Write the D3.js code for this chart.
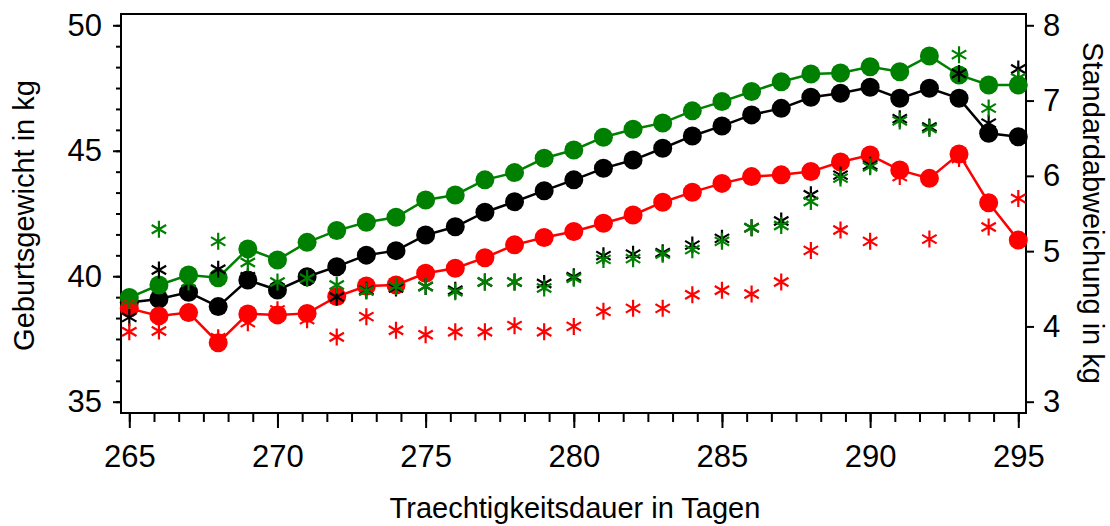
<!DOCTYPE html>
<html>
<head>
<meta charset="utf-8">
<script src="https://cdn.jsdelivr.net/npm/d3@7"></script>
<style>
  body { margin: 0; background: #fff; }
  svg text { font-family: "Liberation Sans", Arial, sans-serif; fill: #000; }
</style>
</head>
<body>
<svg id="chart" width="1110" height="526"></svg>
<script>
// Tage (x-Achse)
const days = [265, 266, 267, 268, 269, 270, 271, 272, 273, 274, 275, 276, 277, 278, 279, 280,
  281, 282, 283, 284, 285, 286, 287, 288, 289, 290, 291, 292, 293, 294, 295];

// Mittelwerte Geburtsgewicht (linke Achse)
const meanGreen = [39.15, 39.65, 40.05, 39.94, 41.09, 40.65, 41.35, 41.82, 42.15, 42.35, 43.04, 43.24,
  43.84, 44.13, 44.70, 45.03, 45.54, 45.86, 46.11, 46.59, 46.96, 47.36, 47.75, 48.06, 48.10, 48.35,
  48.15, 48.78, 48.02, 47.62, 47.62];
const meanBlack = [38.95, 39.09, 39.36, 38.79, 39.85, 39.45, 39.98, 40.38, 40.84, 41.02, 41.64, 41.97,
  42.55, 42.97, 43.41, 43.84, 44.30, 44.63, 45.10, 45.59, 45.99, 46.43, 46.69, 47.13, 47.29, 47.53,
  47.09, 47.49, 47.09, 45.70, 45.56];
const meanRed = [38.72, 38.42, 38.55, 37.35, 38.50, 38.46, 38.52, 39.19, 39.61, 39.65, 40.12, 40.32,
  40.74, 41.25, 41.54, 41.78, 42.11, 42.44, 42.95, 43.35, 43.70, 43.97, 44.04, 44.17, 44.55, 44.83,
  44.23, 43.90, 44.87, 42.93, 41.44];

// Standardabweichung (rechte Achse)
const sdGreen = [4.35, 5.29, 4.59, 5.13, 4.85, 4.59, 4.64, 4.55, 4.47, 4.53, 4.53, 4.46, 4.59, 4.59,
  4.51, 4.64, 4.89, 4.90, 4.96, 5.02, 5.13, 5.31, 5.34, 5.66, 5.97, 6.12, 6.73, 6.63, 7.61, 6.90, 7.30];
const sdBlack = [4.12, 4.75, 4.46, 4.76, 4.66, 4.48, 4.66, 4.39, 4.48, 4.51, 4.53, 4.48, 4.59, 4.59,
  4.57, 4.66, 4.94, 4.96, 4.98, 5.08, 5.17, 5.31, 5.40, 5.75, 6.01, 6.14, 6.76, 6.65, 7.36, 6.70, 7.42];
const sdRed = [3.93, 3.94, 4.18, 3.85, 4.05, 4.22, 4.09, 3.86, 4.13, 3.95, 3.89, 3.93, 3.93, 4.01,
  3.93, 4.00, 4.20, 4.24, 4.24, 4.42, 4.48, 4.43, 4.59, 5.01, 5.28, 5.13, 5.99, 5.16, 6.23, 5.32, 5.70];

const xTicks = [265, 270, 275, 280, 285, 290, 295];
const leftTicks = [35, 40, 45, 50];
const rightTicks = [3, 4, 5, 6, 7, 8];

const svg = d3.select('#chart');
const plotL = 121, plotR = 1026, plotT = 14, plotB = 413;

let x = d3.scaleLinear().domain([264.72, 295.26]).range([plotL, plotR]);
let yL = d3.scaleLinear().domain([34.55, 50.45]).range([plotB, plotT]);
let yR = d3.scaleLinear().domain([2.85, 8.15]).range([plotB, plotT]);

// minor ticks: 6 steps per major interval
let xMinor = d3.range(265, 295.01, 5 / 6);
let yMinor = d3.range(35, 50.01, 5 / 6);

function styleAxis(g) {
  g.select('.domain').remove();
  g.selectAll('line').attr('stroke', '#000').attr('stroke-width', 2);
  g.selectAll('text').attr('font-size', 31);
}

svg.append('g')
  .attr('transform', `translate(0,${plotB})`)
  .call(d3.axisBottom(x).tickValues(xMinor).tickSize(9).tickFormat(''))
  .call(styleAxis);
svg.append('g')
  .attr('transform', `translate(0,${plotB})`)
  .call(d3.axisBottom(x).tickValues(xTicks).tickSize(15).tickPadding(17).tickFormat(d3.format('d')))
  .call(styleAxis);

svg.append('g')
  .attr('transform', `translate(${plotL},0)`)
  .call(d3.axisLeft(yL).tickValues(yMinor).tickSize(5).tickFormat(''))
  .call(styleAxis);
svg.append('g')
  .attr('transform', `translate(${plotL},0)`)
  .call(d3.axisLeft(yL).tickValues(leftTicks).tickSize(8).tickPadding(11).tickFormat(d3.format('d')))
  .call(styleAxis);

svg.append('g')
  .attr('transform', `translate(${plotR},0)`)
  .call(d3.axisRight(yR).tickValues(rightTicks).tickSize(8).tickPadding(9).tickFormat(d3.format('d')))
  .call(styleAxis);

svg.append('rect')
  .attr('x', plotL).attr('y', plotT)
  .attr('width', plotR - plotL).attr('height', plotB - plotT)
  .attr('fill', 'none').attr('stroke', '#000').attr('stroke-width', 2);

const series = [
  { mean: meanBlack, sd: sdBlack, color: '#000000' },
  { mean: meanGreen, sd: sdGreen, color: '#008000' },
  { mean: meanRed, sd: sdRed, color: '#ff0000' },
];

let line = d3.line().x((d, i) => x(days[i])).y(d => yL(d));

series.forEach(s => {
  let g = svg.append('g');
  g.append('path')
    .attr('d', line(s.mean))
    .attr('fill', 'none')
    .attr('stroke', s.color)
    .attr('stroke-width', 2.5);
  g.selectAll('circle')
    .data(s.mean)
    .join('circle')
    .attr('cx', (d, i) => x(days[i]))
    .attr('cy', d => yL(d))
    .attr('r', 9.5)
    .attr('fill', s.color);
});

// asterisk: vertical stroke + two diagonals
const a = 8.5;
const star = `M0,${-a}L0,${a}M${-a * 0.85},${-a * 0.5}L${a * 0.85},${a * 0.5}M${-a * 0.85},${a * 0.5}L${a * 0.85},${-a * 0.5}`;

series.forEach(s => {
  svg.append('g')
    .selectAll('path')
    .data(s.sd)
    .join('path')
    .attr('d', star)
    .attr('transform', (d, i) => `translate(${x(days[i])},${yR(d)})`)
    .attr('fill', 'none')
    .attr('stroke', s.color)
    .attr('stroke-width', 2.2);
});

svg.append('text')
  .attr('x', 575).attr('y', 518)
  .attr('text-anchor', 'middle')
  .attr('font-size', 29)
  .text('Traechtigkeitsdauer in Tagen');

svg.append('text')
  .attr('transform', 'translate(33.5,215.5) rotate(-90)')
  .attr('text-anchor', 'middle')
  .attr('font-size', 29)
  .text('Geburtsgewicht in kg');

svg.append('text')
  .attr('transform', 'translate(1083,213) rotate(90)')
  .attr('text-anchor', 'middle')
  .attr('font-size', 29)
  .text('Standardabweichung in kg');
</script>
</body>
</html>
